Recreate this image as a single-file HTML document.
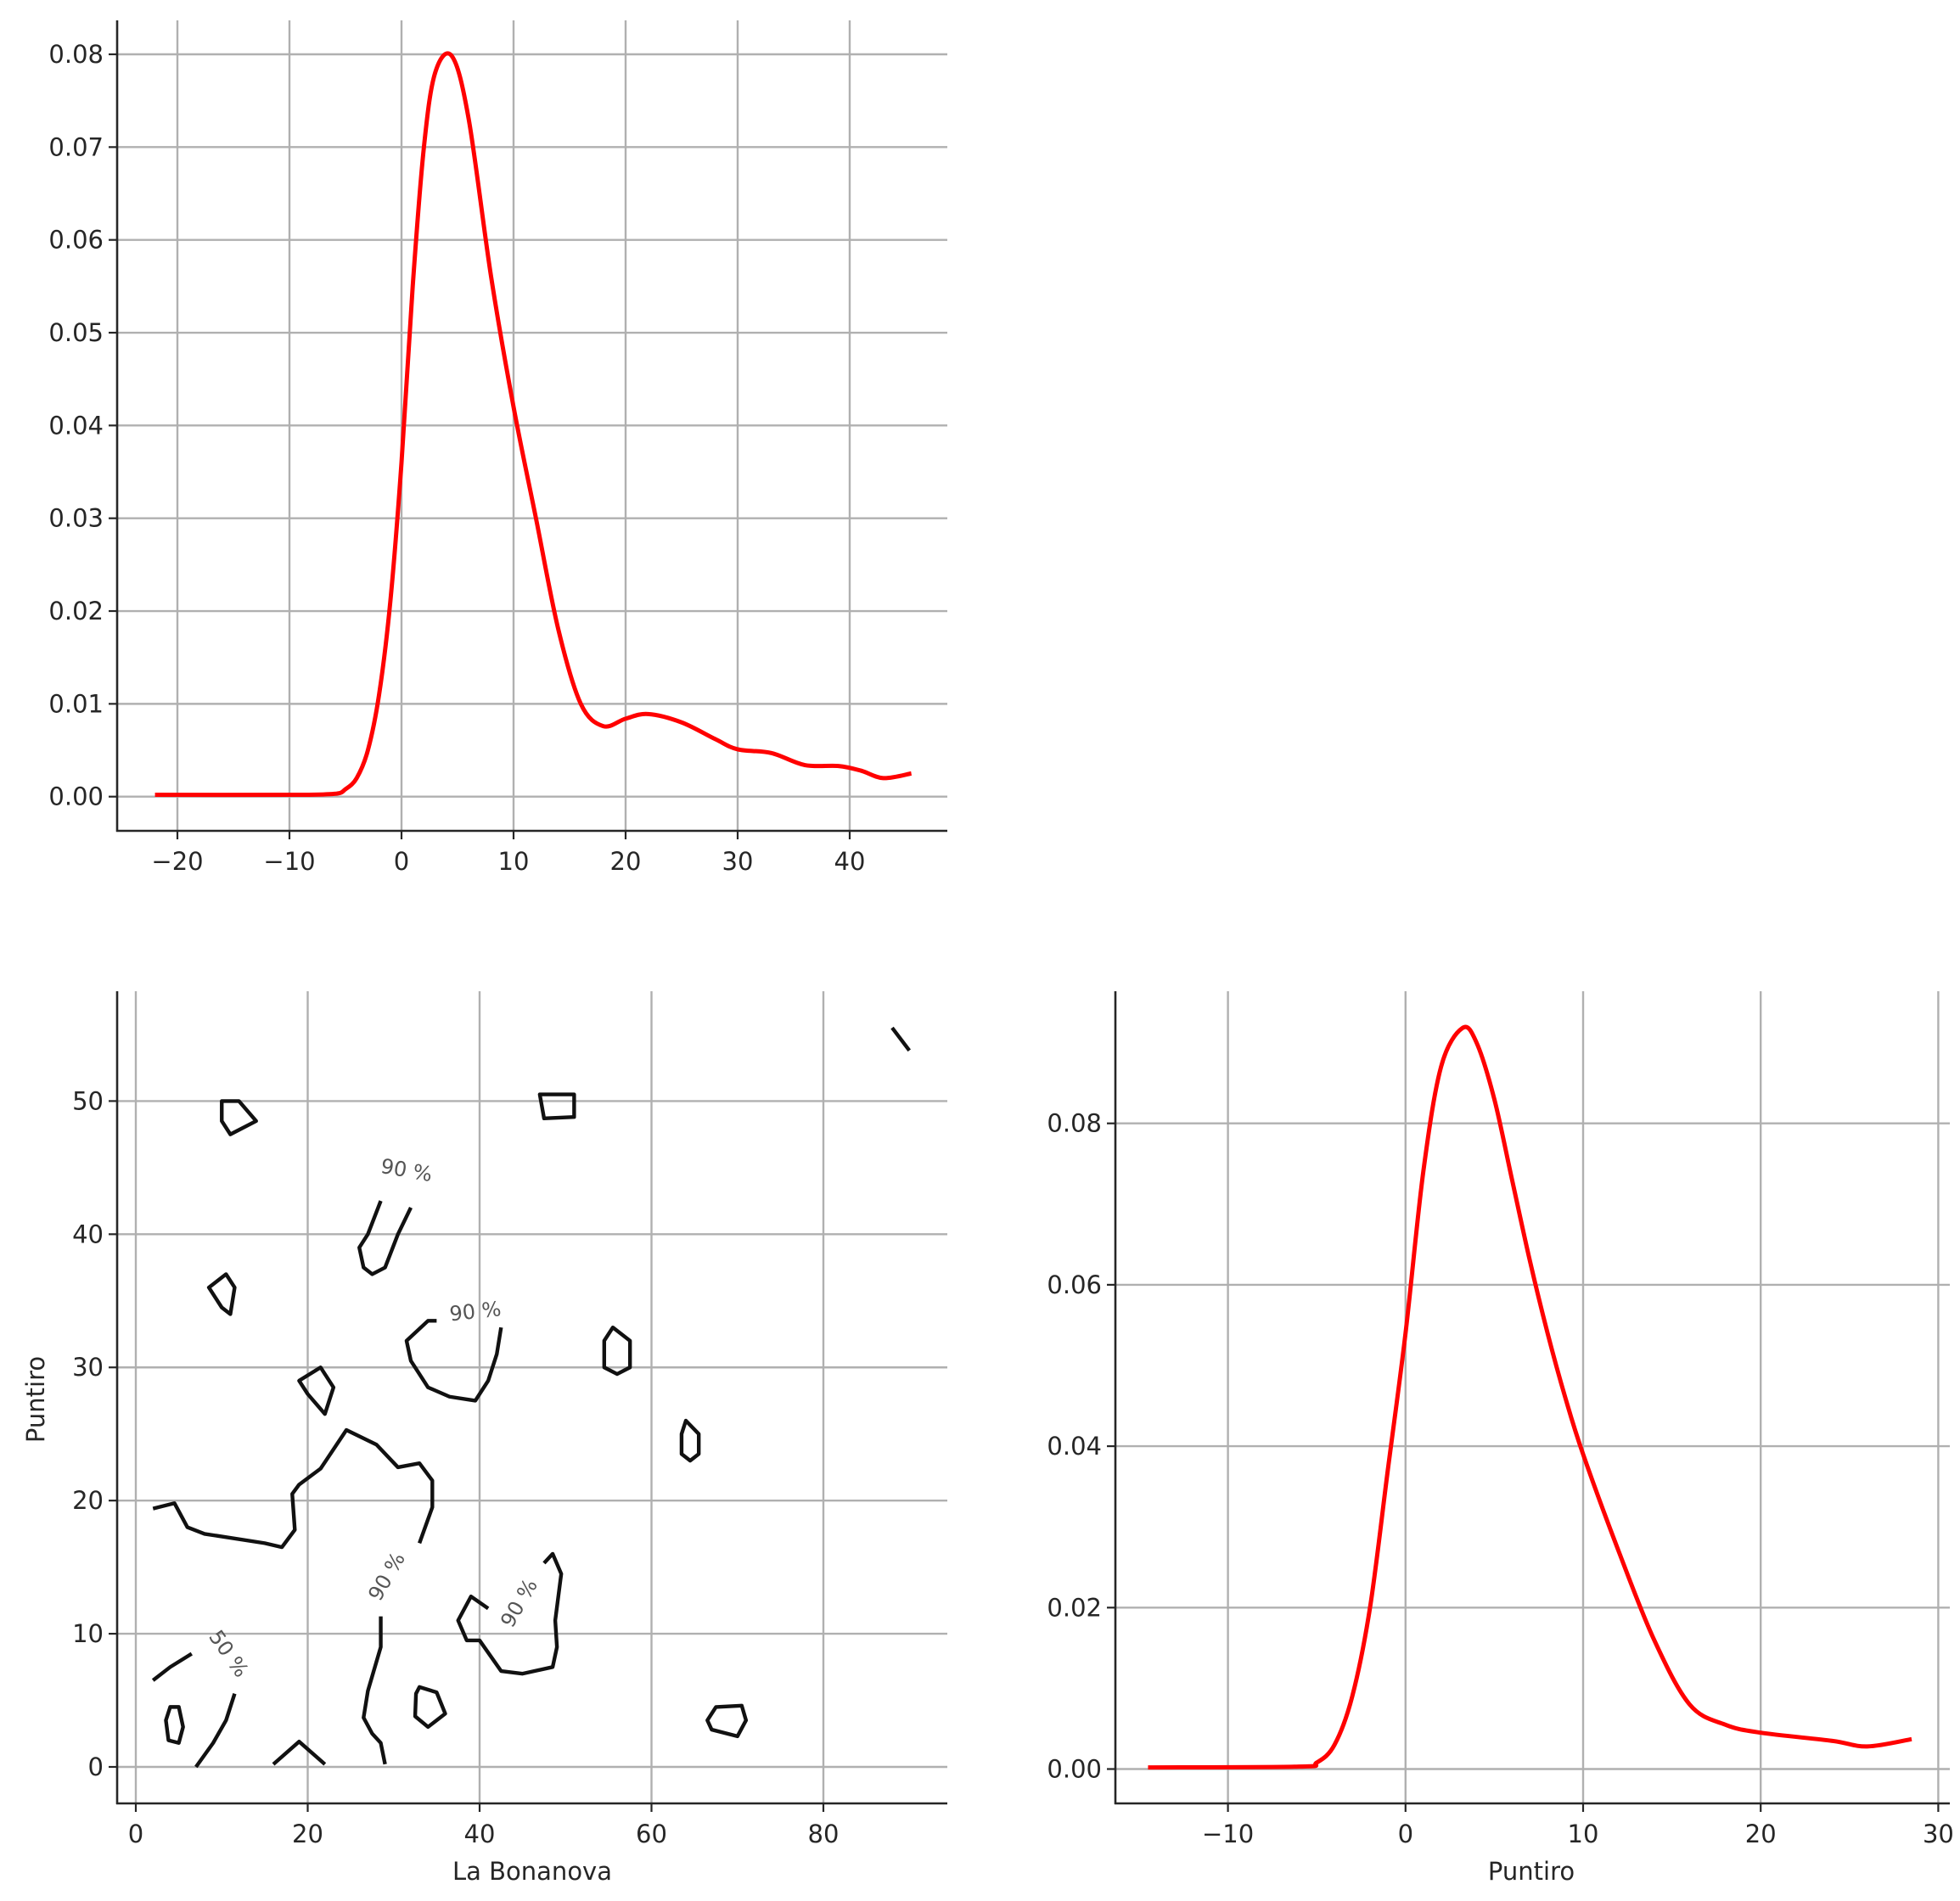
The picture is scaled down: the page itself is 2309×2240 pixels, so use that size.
<!DOCTYPE html>
<html><head><meta charset="utf-8"><style>
html,body{margin:0;padding:0;background:#fff;}
svg{display:block;}
text{font-family:"DejaVu Sans","Liberation Sans",sans-serif;fill:#262626;}
</style></head><body>
<svg id="fig" xmlns="http://www.w3.org/2000/svg" width="2309" height="2240" viewBox="0 0 2309 2240"></svg>
<script>
// ---- data: top KDE (La Bonanova) ----
const kde1X = [-22,-10,-6,-5,-4,-3,-2,-1,0,1,2,3,4.5,6,8,10,12,14,16,18,20,22,25,28,30,33,36,39,41,43,45.5];
const kde1Y = [0.0002,0.0002,0.0003,0.0008,0.002,0.005,0.011,0.021,0.036,0.055,0.070,0.078,0.0798,0.073,0.056,0.042,0.030,0.018,0.010,0.0076,0.0084,0.0089,0.0080,0.0062,0.0051,0.0047,0.0034,0.0033,0.0028,0.0020,0.0025];
const kde1XTicks = [-20,-10,0,10,20,30,40];
const kde1YTicks = [0,0.01,0.02,0.03,0.04,0.05,0.06,0.07,0.08];
// ---- data: bottom-right KDE (Puntiro) ----
const kde2X = [-14.5,-6,-5,-4,-3,-2,-1,0,1,2,3.2,4,5,6,7,8,9,10,12,14,16,18,20,24,26,28.5];
const kde2Y = [0.0002,0.0003,0.0008,0.003,0.009,0.02,0.037,0.054,0.074,0.087,0.0918,0.090,0.083,0.073,0.063,0.054,0.046,0.039,0.027,0.016,0.008,0.0055,0.0045,0.0035,0.0028,0.0037];
const kde2XTicks = [-10,0,10,20,30];
const kde2YTicks = [0,0.02,0.04,0.06,0.08];
// ---- data: contour (bivariate) ----
const contXTicks = [0,20,40,60,80];
const contYTicks = [0,10,20,30,40,50];
const contours = [
 {c:true, p:[[10,50],[12,50],[14,48.5],[11,47.5],[10,48.5]]},
 {c:true, p:[[47,50.5],[51,50.5],[51,48.8],[47.5,48.7]]},
 {c:false,p:[[88,55.5],[90,53.8]]},
 {c:false,p:[[28.5,42.5],[27,40],[26,39],[26.5,37.5],[27.5,37],[29,37.5],[30.5,40],[32,42]]},
 {c:true, p:[[8.5,36],[10.5,37],[11.5,36],[11,34],[10,34.5]]},
 {c:false,p:[[35,33.5],[34,33.5],[31.5,32],[32,30.5],[34,28.5],[36.5,27.8],[39.5,27.5],[41,29],[42,31],[42.5,33]]},
 {c:true, p:[[55.5,33],[57.5,32],[57.5,30],[56,29.5],[54.5,30],[54.5,32]]},
 {c:true, p:[[19,29],[21.5,30],[23,28.5],[22,26.5],[20,28]]},
 {c:true, p:[[64,26],[65.5,25],[65.5,23.5],[64.5,23],[63.5,23.5],[63.5,25]]},
 {c:false,p:[[2,19.4],[4.5,19.8],[6,18],[8,17.5],[15,16.8],[17,16.5],[18.5,17.8],[18.2,20.5],[19,21.2],[21.5,22.4],[24.5,25.3],[28,24.2],[30.5,22.5],[33,22.8],[34.5,21.5],[34.5,19.5],[33,16.8]]},
 {c:false,p:[[28.5,11.3],[28.5,9],[27,5.7],[26.5,3.7],[27.5,2.5],[28.5,1.8],[29,0.2]]},
 {c:false,p:[[47.5,15.3],[48.5,16],[49.5,14.5],[48.8,11],[49,9],[48.5,7.5],[45,7],[42.5,7.2],[40,9.5],[38.5,9.5],[37.5,11],[39,12.8],[41,11.9]]},
 {c:false,p:[[2,6.5],[4,7.5],[6.5,8.5]]},
 {c:false,p:[[11.5,5.5],[10.5,3.5],[9,1.8],[7,0]]},
 {c:true, p:[[4,4.5],[5,4.5],[5.5,3],[5,1.8],[3.8,2],[3.5,3.5]]},
 {c:false,p:[[16,0.2],[19,1.9],[22,0.2]]},
 {c:true, p:[[33,6],[35,5.6],[36,4],[34,3],[32.5,3.8],[32.6,5.5]]},
 {c:true, p:[[67.5,4.5],[70.5,4.6],[71,3.5],[70,2.3],[67,2.8],[66.5,3.5]]}
];
const contLabels = [
 {t:"90 %",x:31.5,y:44.8,r:10},{t:"90 %",x:39.5,y:34.2,r:-6},
 {t:"90 %",x:29.2,y:14.3,r:-60},{t:"90 %",x:44.6,y:12.3,r:-60},{t:"50 %",x:10.8,y:8.5,r:55}
];

const NS="http://www.w3.org/2000/svg";
const fig=document.getElementById('fig');
function mk(tag,attrs,parent){const e=document.createElementNS(NS,tag);for(const k in attrs)e.setAttribute(k,attrs[k]);(parent||fig).appendChild(e);return e;}
function txt(s,x,y,anchor,parent,rot){
  const e=mk('text',{'text-anchor':anchor,'font-size':'29','dominant-baseline':'central',transform:'translate('+x+','+y+')'+(rot?' rotate('+rot+')':'')},parent);
  e.textContent=s;return e;}

function axes(name,box,xd,yd,xt,yt,fmt){
  const g=mk('g',{});
  
  
  const sx=v=>xd[2]+(v-xd[0])*(xd[3]-xd[2])/(xd[1]-xd[0]);
  const sy=v=>yd[2]+(v-yd[0])*(yd[3]-yd[2])/(yd[1]-yd[0]);
  xt.forEach(v=>{const X=sx(v);
    const l=mk('line',{x1:X,x2:X,y1:box.t,y2:box.b,stroke:'#b0b0b0','stroke-width':2.4},g);
    
    mk('line',{x1:X,x2:X,y1:box.b,y2:box.b+10,stroke:'#262626','stroke-width':2.2},g);
    const t=txt(v<0?'\u2212'+(-v):String(v),X,box.b+36,'middle',g);
    });
  yt.forEach(v=>{const Y=sy(v);
    const l=mk('line',{x1:box.l,x2:box.r,y1:Y,y2:Y,stroke:'#b0b0b0','stroke-width':2.4},g);
    
    mk('line',{x1:box.l-10,x2:box.l,y1:Y,y2:Y,stroke:'#262626','stroke-width':2.2},g);
    const t=txt(fmt(v),box.l-16,Y,'end',g);
    });
  const s1=mk('line',{x1:box.l,x2:box.l,y1:box.t,y2:box.b+1,stroke:'#262626','stroke-width':2.6},g);
  
  const s2=mk('line',{x1:box.l-1,x2:box.r,y1:box.b,y2:box.b,stroke:'#262626','stroke-width':2.6},g);
  
  return {g,sx,sy};
}
function smoothPath(pts){ // catmull-rom
  let d='M'+pts[0][0]+','+pts[0][1];
  for(let i=0;i<pts.length-1;i++){
    const p0=pts[i-1]||pts[i],p1=pts[i],p2=pts[i+1],p3=pts[i+2]||p2;
    const c1=[p1[0]+(p2[0]-p0[0])/6,p1[1]+(p2[1]-p0[1])/6];
    const c2=[p2[0]-(p3[0]-p1[0])/6,p2[1]-(p3[1]-p1[1])/6];
    d+=' C'+c1+' '+c2+' '+p2;}
  return d;}

// Top KDE
const A=axes('top-kde-axes',{l:138,r:1116,t:24,b:979},[0,40,473,1001],[0,0.08,938.7,64],kde1XTicks,kde1YTicks,v=>v.toFixed(2));
const c1=mk('path',{d:smoothPath(kde1X.map((x,i)=>[A.sx(x),A.sy(kde1Y[i])])),fill:'none',stroke:'#ff0000','stroke-width':5,'stroke-linejoin':'round'},A.g);



// Bottom-left contour
const B=axes('contour-axes',{l:138,r:1116,t:1168,b:2125},[0,80,160,970],[0,50,2082,1297.4],contXTicks,contYTicks,v=>String(v));
contours.forEach((c,i)=>{
  const pts=c.p.map(p=>B.sx(p[0])+','+B.sy(p[1])).join(' ');
  const e=mk(c.c?'polygon':'polyline',{points:pts,fill:'none',stroke:'#111','stroke-width':4.4,'stroke-linejoin':'round'},B.g);
  
  
});
contLabels.forEach(l=>{
  const e=mk('text',{'text-anchor':'middle','dominant-baseline':'central','font-size':'24',style:'fill:#555',transform:'translate('+B.sx(l.x)+','+B.sy(l.y)+') rotate('+l.r+')'},B.g);
  e.textContent=l.t;
  
  
});
const xl=txt('La Bonanova',627,2205,'middle',B.g);


const yl=txt('Puntiro',42,1649,'middle',B.g,-90);



// Bottom-right KDE
const C=axes('bottom-kde-axes',{l:1314,r:2297,t:1168,b:2125},[0,10,1655.8,1865],[0,0.08,2084.5,1323.7],kde2XTicks,kde2YTicks,v=>v.toFixed(2));
const c2=mk('path',{d:smoothPath(kde2X.map((x,i)=>[C.sx(x),C.sy(kde2Y[i])])),fill:'none',stroke:'#ff0000','stroke-width':5,'stroke-linejoin':'round'},C.g);


const xl2=txt('Puntiro',1804,2205,'middle',C.g);


</script>
</body></html>
